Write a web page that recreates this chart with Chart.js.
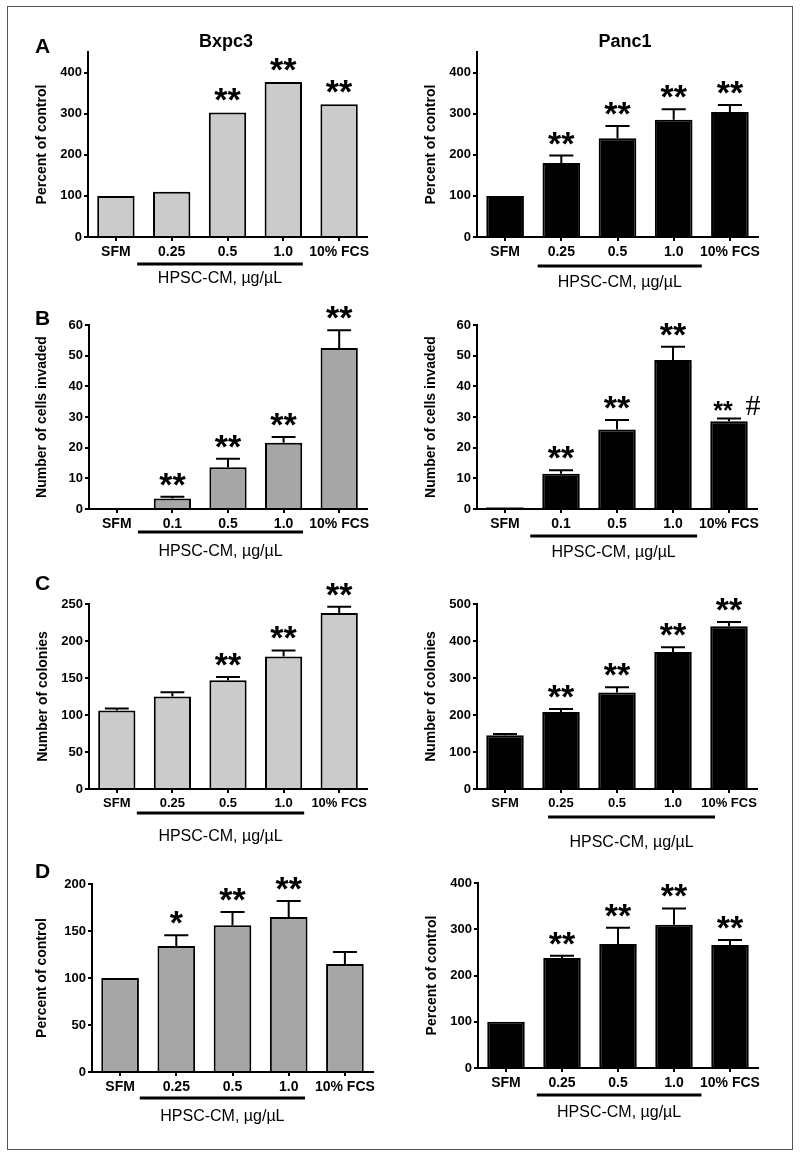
<!DOCTYPE html>
<html lang="en">
<head>
<meta charset="UTF-8">
<title>HPSC-CM effects on Bxpc3 and Panc1</title>
<style>
  body { margin: 0; background: #fff; font-family: "Liberation Sans", Arial, sans-serif; }
  #figure { position: relative; width: 800px; height: 1157px; overflow: hidden; }
  #frame { position: absolute; left: 7px; top: 6px; width: 784px; height: 1142px; border: 1.5px solid #555; }
  canvas { position: absolute; }
  .letter { position: absolute; font-weight: bold; font-size: 21px; line-height: 1; z-index: 2; }
  .coltitle { position: absolute; font-weight: bold; font-size: 18px; line-height: 1; transform: translate(-50%, -50%); z-index: 2; }
</style>
</head>
<body>
<div id="figure">
  <div id="frame"></div>
  <div class="letter" style="left:35px; top:35px;">A</div>
  <div class="letter" style="left:35px; top:307px;">B</div>
  <div class="letter" style="left:35px; top:572px;">C</div>
  <div class="letter" style="left:35px; top:860px;">D</div>
  <div class="coltitle" style="left:226px; top:41px;">Bxpc3</div>
  <div class="coltitle" style="left:625px; top:41px;">Panc1</div>
</div>

<script src="https://cdn.jsdelivr.net/npm/chart.js"></script>
<script>
    // categories
    const doseLabels = ['SFM', '0.25', '0.5', '1.0', '10% FCS'];
    const invasionLabels = ['SFM', '0.1', '0.5', '1.0', '10% FCS'];

    // A - proliferation (percent of control)
    const bxpc3Prolif = [100, 110, 303, 377, 323];
    const bxpc3ProlifErr = [0, 0, 0, 0, 0];
    const bxpc3ProlifStars = ['', '', '**', '**', '**'];
    const panc1Prolif = [100, 180, 240, 285, 304];
    const panc1ProlifErr = [0, 18, 30, 26, 17];
    const panc1ProlifStars = ['', '**', '**', '**', '**'];

    // B - invasion (number of cells invaded)
    const bxpc3Invasion = [0.3, 3.4, 13.6, 21.6, 52.5];
    const bxpc3InvasionErr = [0, 0.6, 2.8, 1.9, 5.8];
    const bxpc3InvasionStars = ['', '**', '**', '**', '**'];
    const panc1Invasion = [0.6, 11.5, 25.9, 48.6, 28.6];
    const panc1InvasionErr = [0, 1.1, 3.1, 4.3, 0.9];
    const panc1InvasionStars = ['', '**', '**', '**', '**'];
    const panc1InvasionHash = [false, false, false, false, true];

    // C - colonies
    const bxpc3Colonies = [106, 125, 147, 179, 238];
    const bxpc3ColoniesErr = [2.7, 5.6, 4.2, 8.2, 8.2];
    const bxpc3ColoniesStars = ['', '', '**', '**', '**'];
    const panc1Colonies = [145, 208, 261, 370, 440];
    const panc1ColoniesErr = [3.6, 8, 14, 13, 11.5];
    const panc1ColoniesStars = ['', '**', '**', '**', '**'];

    // D - migration (percent of control)
    const bxpc3Migration = [100, 134, 156, 165, 115];
    const bxpc3MigrationErr = [0, 11.4, 14.3, 17, 12.6];
    const bxpc3MigrationStars = ['', '*', '**', '**', ''];
    const panc1Migration = [100, 238, 268, 310, 266];
    const panc1MigrationErr = [0, 4.5, 35, 35, 11];
    const panc1MigrationStars = ['', '**', '**', '**', '**'];

    const FONT = '"Liberation Sans", Arial, Helvetica, sans-serif';
    const X_HEIGHT = 24;
    const LIGHT = '#cbcbcb', MID = '#a6a6a6', BLACK = '#000';

    // draws error bars, significance stars and the HPSC-CM bracket
    const annotate = {
        id: 'annotate',
        afterDatasetsDraw(chart, args, opts) {
            const { ctx, scales: { x, y } } = chart;
            const meta = chart.getDatasetMeta(0);
            const vals = chart.data.datasets[0].data;
            ctx.save();
            ctx.strokeStyle = '#000';
            ctx.fillStyle = '#000';
            ctx.lineWidth = 2;

            vals.forEach((v, i) => {
                const bar = meta.data[i];
                const e = opts.err[i] || 0;
                const yv = y.getPixelForValue(v);
                const ye = y.getPixelForValue(v + e);
                if (e > 0) {
                    const half = bar.width * 0.32;
                    ctx.beginPath();
                    ctx.moveTo(bar.x, yv);
                    ctx.lineTo(bar.x, ye);
                    ctx.moveTo(bar.x - half, ye);
                    ctx.lineTo(bar.x + half, ye);
                    ctx.stroke();
                }
                const s = opts.stars[i];
                if (!s) return;
                const hash = opts.hash && opts.hash[i];
                ctx.font = 'bold ' + (hash ? 25 : 34) + 'px ' + FONT;
                ctx.textAlign = 'center';
                ctx.textBaseline = 'alphabetic';
                const m = ctx.measureText(s);
                const bottom = ye - (hash ? 8 : 11);
                const base = bottom - m.actualBoundingBoxDescent;
                const sx = hash ? bar.x - 6 : bar.x;
                ctx.fillText(s, sx, base);
                if (hash) {
                    // centre the # on the small stars
                    const mid = base + (m.actualBoundingBoxDescent - m.actualBoundingBoxAscent) / 2;
                    ctx.font = '30px "Liberation Serif", "Times New Roman", serif';
                    const mh = ctx.measureText('#');
                    const hb = mid + (mh.actualBoundingBoxAscent - mh.actualBoundingBoxDescent) / 2;
                    ctx.fillText('#', bar.x + 24, hb);
                }
            });

            // bracket under the HPSC-CM doses
            const xa = x.getPixelForValue(opts.bracket[0]);
            const xb = x.getPixelForValue(opts.bracket[1]);
            const yb = y.getPixelForValue(0) + opts.bracketDy;
            ctx.lineWidth = 3;
            ctx.beginPath();
            ctx.moveTo(xa, yb);
            ctx.lineTo(xb, yb);
            ctx.stroke();
            ctx.font = '16px ' + FONT;
            ctx.textAlign = 'center';
            ctx.textBaseline = 'middle';
            ctx.fillText('HPSC-CM, \u00b5g/\u00b5L', (xa + xb) / 2, y.getPixelForValue(0) + opts.labelDy);
            ctx.restore();
        }
    };

    const panels = [
        { box: [10, 8, 385, 290], area: [88, 367, 52, 237], titleX: 42, labels: doseLabels, values: bxpc3Prolif, err: bxpc3ProlifErr, stars: bxpc3ProlifStars, fill: LIGHT, max: 450, step: 100, yTitle: 'Percent of control', bracket: [0.38, 3.35], bracketDy: 27, labelDy: 42, tickSize: 14 },
        { box: [400, 8, 390, 290], area: [477, 758, 52, 237], titleX: 431, labels: doseLabels, values: panc1Prolif, err: panc1ProlifErr, stars: panc1ProlifStars, fill: BLACK, max: 450, step: 100, yTitle: 'Percent of control', bracket: [0.58, 3.5], bracketDy: 29, labelDy: 46, tickSize: 14 },
        { box: [10, 280, 385, 290], area: [89, 367, 325, 509], titleX: 42, labels: invasionLabels, values: bxpc3Invasion, err: bxpc3InvasionErr, stars: bxpc3InvasionStars, fill: MID, max: 60, step: 10, yTitle: 'Number of cells invaded', bracket: [0.38, 3.35], bracketDy: 23, labelDy: 43, tickSize: 14 },
        { box: [400, 280, 390, 290], area: [477, 757, 325, 509], titleX: 431, labels: invasionLabels, values: panc1Invasion, err: panc1InvasionErr, stars: panc1InvasionStars, hash: panc1InvasionHash, fill: BLACK, max: 60, step: 10, yTitle: 'Number of cells invaded', bracket: [0.45, 3.43], bracketDy: 27, labelDy: 44, tickSize: 14 },
        { box: [10, 555, 385, 300], area: [89, 367, 604, 789], titleX: 43, labels: doseLabels, values: bxpc3Colonies, err: bxpc3ColoniesErr, stars: bxpc3ColoniesStars, fill: LIGHT, max: 250, step: 50, yTitle: 'Number of colonies', bracket: [0.36, 3.37], bracketDy: 24, labelDy: 48, tickSize: 13 },
        { box: [400, 555, 390, 300], area: [477, 757, 604, 789], titleX: 431, labels: doseLabels, values: panc1Colonies, err: panc1ColoniesErr, stars: panc1ColoniesStars, fill: BLACK, max: 500, step: 100, yTitle: 'Number of colonies', bracket: [0.77, 3.75], bracketDy: 28, labelDy: 54, tickSize: 13 },
        { box: [10, 845, 385, 305], area: [92, 373, 884, 1072], titleX: 42, labels: doseLabels, values: bxpc3Migration, err: bxpc3MigrationErr, stars: bxpc3MigrationStars, fill: MID, max: 200, step: 50, yTitle: 'Percent of control', bracket: [0.35, 3.29], bracketDy: 26, labelDy: 45, tickSize: 14 },
        { box: [400, 845, 390, 305], area: [478, 758, 883, 1068], titleX: 432, labels: doseLabels, values: panc1Migration, err: panc1MigrationErr, stars: panc1MigrationStars, fill: BLACK, max: 400, step: 100, yTitle: 'Percent of control', bracket: [0.55, 3.49], bracketDy: 27, labelDy: 45, tickSize: 14 }
    ];

    const fig = document.getElementById('figure');

    panels.forEach(p => {
        const [bl, bt, bw, bh] = p.box;
        const [x0, x1, yTop, yBase] = p.area;
        const canvas = document.createElement('canvas');
        canvas.width = bw;
        canvas.height = bh;
        canvas.style.left = bl + 'px';
        canvas.style.top = bt + 'px';
        fig.appendChild(canvas);

        const titleSize = 14;
        const scaleLeft = p.titleX - titleSize * 1.2 / 2;
        const yWidth = x0 - scaleLeft;
        const tickFont = { family: FONT, size: p.tickSize, weight: 'bold' };
        const axisGrid = { display: true, drawOnChartArea: false, drawTicks: true, tickLength: 4, color: '#000', lineWidth: 2 };

        new Chart(canvas, {
            type: 'bar',
            data: {
                labels: p.labels,
                datasets: [{
                    data: p.values,
                    backgroundColor: p.fill,
                    borderColor: '#000',
                    borderWidth: 2,
                    barPercentage: 0.67,
                    categoryPercentage: 1
                }]
            },
            options: {
                responsive: false,
                animation: false,
                layout: {
                    padding: {
                        left: scaleLeft - bl,
                        right: bl + bw - x1,
                        top: yTop - bt,
                        bottom: bt + bh - yBase - X_HEIGHT
                    }
                },
                plugins: {
                    legend: { display: false },
                    tooltip: { enabled: false },
                    annotate: { err: p.err, stars: p.stars, hash: p.hash, bracket: p.bracket, bracketDy: p.bracketDy, labelDy: p.labelDy }
                },
                scales: {
                    x: {
                        grid: Object.assign({ offset: false }, axisGrid),
                        border: { display: true, color: '#000', width: 2 },
                        ticks: { color: '#000', font: tickFont, padding: 3, maxRotation: 0, autoSkip: false },
                        afterFit: s => { s.height = X_HEIGHT; }
                    },
                    y: {
                        min: 0,
                        max: p.max,
                        grid: axisGrid,
                        border: { display: true, color: '#000', width: 2 },
                        ticks: { stepSize: p.step, includeBounds: false, color: '#000', font: { family: FONT, size: 13, weight: 'bold' }, padding: 2 },
                        title: { display: true, text: p.yTitle, color: '#000', font: { family: FONT, size: titleSize, weight: 'bold', lineHeight: 1.2 }, padding: 0 },
                        afterFit: s => { s.width = yWidth; }
                    }
                }
            },
            plugins: [annotate]
        });
    });
</script>
</body>
</html>
